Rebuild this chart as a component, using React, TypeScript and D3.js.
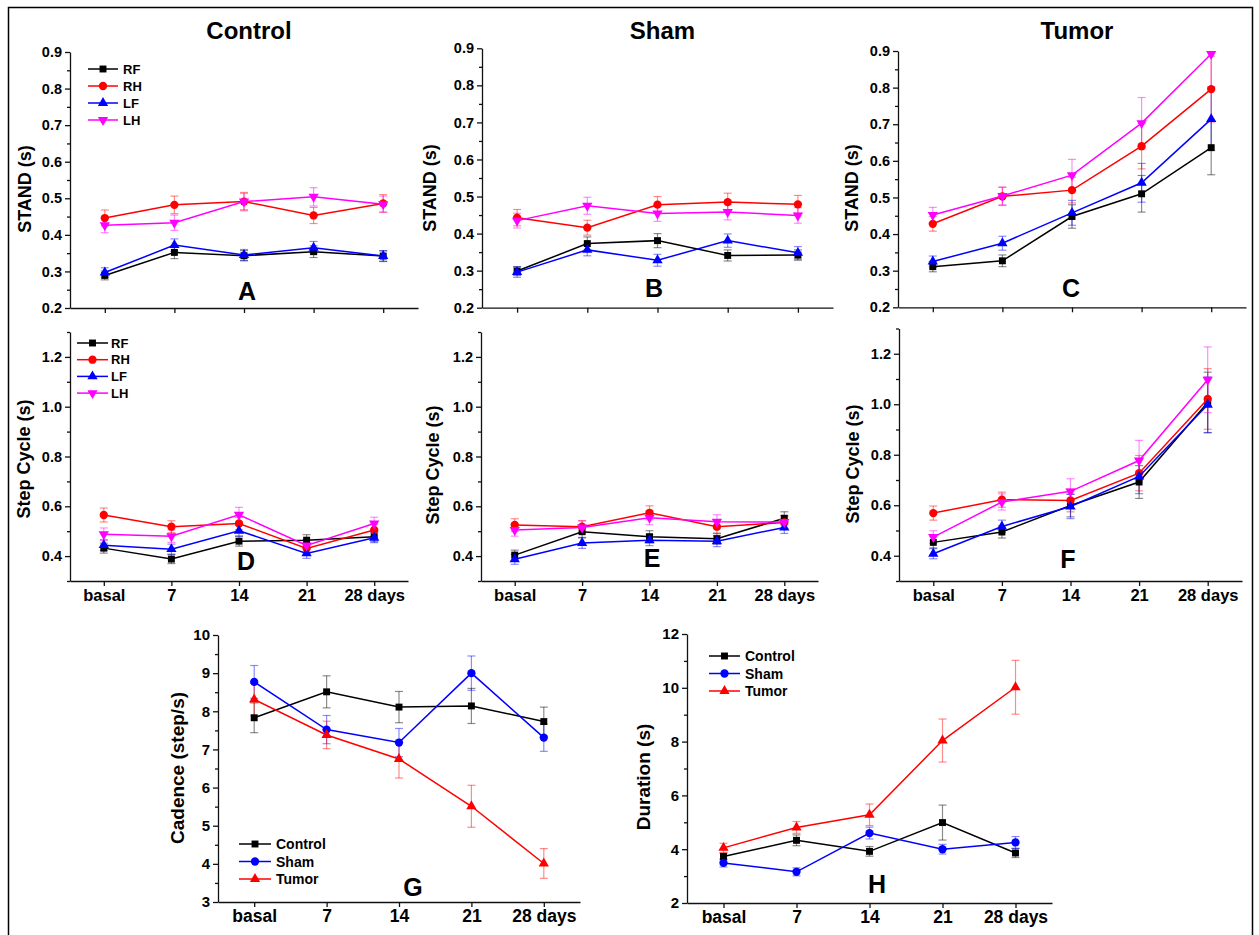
import React, { useEffect, useRef } from "react";
import * as d3 from "d3";

// x categories
const days = ["basal", "7", "14", "21", "28 days"];
const limbs = ["RF", "RH", "LF", "LH"];
const groups = ["Control", "Sham", "Tumor"];

// STAND (s), rows: RF, RH, LF, LH
const standControl = [
  [0.289, 0.352, 0.343, 0.354, 0.342],
  [0.446, 0.482, 0.491, 0.453, 0.486],
  [0.297, 0.372, 0.345, 0.365, 0.342],
  [0.426, 0.433, 0.491, 0.504, 0.484],
];
const standControlErr = [
  [0.012, 0.017, 0.014, 0.016, 0.014],
  [0.022, 0.024, 0.025, 0.022, 0.024],
  [0.013, 0.017, 0.015, 0.017, 0.015],
  [0.02, 0.021, 0.022, 0.025, 0.022],
];
const standSham = [
  [0.299, 0.373, 0.381, 0.341, 0.342],
  [0.443, 0.416, 0.478, 0.485, 0.479],
  [0.296, 0.356, 0.328, 0.381, 0.348],
  [0.435, 0.475, 0.454, 0.458, 0.449],
];
const standShamErr = [
  [0.012, 0.018, 0.019, 0.015, 0.014],
  [0.022, 0.02, 0.022, 0.024, 0.024],
  [0.014, 0.016, 0.016, 0.018, 0.017],
  [0.02, 0.023, 0.021, 0.021, 0.021],
];
const standTumor = [
  [0.311, 0.327, 0.448, 0.51, 0.636],
  [0.428, 0.503, 0.52, 0.64, 0.796],
  [0.325, 0.375, 0.458, 0.54, 0.714],
  [0.452, 0.504, 0.561, 0.703, 0.892],
];
const standTumorErr = [
  [0.014, 0.016, 0.032, 0.05, 0.074],
  [0.02, 0.025, 0.035, 0.062, 0.09],
  [0.015, 0.019, 0.034, 0.053, 0.085],
  [0.021, 0.024, 0.043, 0.07, 0.09],
];

// Step Cycle (s)
const cycleControl = [
  [0.432, 0.388, 0.46, 0.464, 0.478],
  [0.565, 0.518, 0.531, 0.431, 0.505],
  [0.444, 0.428, 0.502, 0.411, 0.474],
  [0.488, 0.48, 0.566, 0.443, 0.531],
];
const cycleControlErr = [
  [0.02, 0.018, 0.02, 0.022, 0.02],
  [0.028, 0.024, 0.025, 0.022, 0.024],
  [0.022, 0.02, 0.022, 0.02, 0.02],
  [0.025, 0.025, 0.03, 0.025, 0.025],
];
const cycleSham = [
  [0.404, 0.498, 0.478, 0.47, 0.552],
  [0.525, 0.518, 0.574, 0.518, 0.535],
  [0.387, 0.453, 0.464, 0.46, 0.515],
  [0.505, 0.515, 0.554, 0.538, 0.537],
];
const cycleShamErr = [
  [0.02, 0.025, 0.024, 0.022, 0.026],
  [0.025, 0.025, 0.028, 0.028, 0.025],
  [0.02, 0.022, 0.022, 0.022, 0.024],
  [0.025, 0.026, 0.028, 0.028, 0.026],
];
const cycleTumor = [
  [0.453, 0.494, 0.599, 0.692, 1.007],
  [0.569, 0.622, 0.619, 0.727, 1.021],
  [0.408, 0.516, 0.595, 0.714, 0.998],
  [0.474, 0.613, 0.655, 0.777, 1.097],
];
const cycleTumorErr = [
  [0.022, 0.024, 0.045, 0.065, 0.12],
  [0.028, 0.03, 0.045, 0.07, 0.12],
  [0.02, 0.025, 0.048, 0.068, 0.11],
  [0.025, 0.032, 0.05, 0.08, 0.13],
];

// Cadence (step/s), rows: Control, Sham, Tumor
const cadence = [
  [7.83, 8.51, 8.11, 8.14, 7.73],
  [8.77, 7.52, 7.18, 9.0, 7.31],
  [8.31, 7.38, 6.75, 5.51, 4.01],
];
const cadenceErr = [
  [0.39, 0.42, 0.41, 0.46, 0.38],
  [0.43, 0.37, 0.37, 0.45, 0.36],
  [0.42, 0.36, 0.5, 0.55, 0.39],
];

// Duration (s)
const duration = [
  [3.73, 4.33, 3.92, 4.99, 3.86],
  [3.49, 3.16, 4.6, 4.0, 4.25],
  [4.05, 4.81, 5.28, 8.04, 10.02],
];
const durationErr = [
  [0.12, 0.2, 0.18, 0.65, 0.17],
  [0.15, 0.15, 0.22, 0.18, 0.22],
  [0.17, 0.22, 0.4, 0.8, 1.0],
];

const FONT = "'Liberation Sans', Arial, Helvetica, sans-serif";

const limbStyle = [
  { color: "#000000", shape: "square" },
  { color: "#ff0000", shape: "circle" },
  { color: "#0000ff", shape: "up" },
  { color: "#ff00ff", shape: "down" },
];
const groupStyle = [
  { color: "#000000", shape: "square" },
  { color: "#0000ff", shape: "circle" },
  { color: "#ff0000", shape: "up" },
];

const symbolPath = (shape: string) => {
  if (shape === "square") return d3.symbol(d3.symbolSquare, 48)();
  if (shape === "circle") return d3.symbol(d3.symbolCircle, 54)();
  return d3.symbol(d3.symbolTriangle, 46)();
};
const symbolTransform = (shape: string, x: number, y: number) =>
  `translate(${x},${y})` + (shape === "down" ? " rotate(180)" : "");

const range = (a: number, b: number, s: number) => {
  const out: number[] = [];
  for (let v = a; v <= b + s / 1000; v += s) out.push(+v.toFixed(4));
  return out;
};

const standTicks = { major: range(0.2, 0.9, 0.1), minor: range(0.25, 0.85, 0.1), fmt: ".1f" };
const cycleTicks = { major: range(0.4, 1.2, 0.2), minor: range(0.3, 1.3, 0.2), fmt: ".1f" };

const panels = [
  { letter: "A", title: "Control", left: 70, right: 418, top: 52, bottom: 308, domain: [0.2, 0.9], ticks: standTicks, values: standControl, errs: standControlErr, ylabel: "STAND (s)", xlabels: false, names: limbs, styles: limbStyle, legend: { x0: 88, x1: 118, tx: 123, y: 69, dy: 17 }, lx: 25, ly: 189, letterPos: [247, 300] },
  { letter: "B", title: "Sham", left: 482, right: 833, top: 48.3, bottom: 307.7, domain: [0.2, 0.9], ticks: standTicks, values: standSham, errs: standShamErr, ylabel: "STAND (s)", xlabels: false, names: limbs, styles: limbStyle, legend: null, lx: 430, ly: 188, letterPos: [654, 297] },
  { letter: "C", title: "Tumor", left: 898, right: 1246, top: 51, bottom: 307.3, domain: [0.2, 0.9], ticks: standTicks, values: standTumor, errs: standTumorErr, ylabel: "STAND (s)", xlabels: false, names: limbs, styles: limbStyle, legend: null, lx: 852, ly: 188, letterPos: [1071, 297] },
  { letter: "D", title: "", left: 70, right: 408, top: 332, bottom: 581, domain: [0.3, 1.3], ticks: cycleTicks, values: cycleControl, errs: cycleControlErr, ylabel: "Step Cycle (s)", xlabels: true, names: limbs, styles: limbStyle, legend: { x0: 77, x1: 108, tx: 111, y: 343, dy: 16.7 }, lx: 24, ly: 459, letterPos: [246, 570] },
  { letter: "E", title: "", left: 481, right: 818, top: 332, bottom: 581, domain: [0.3, 1.3], ticks: cycleTicks, values: cycleSham, errs: cycleShamErr, ylabel: "Step Cycle (s)", xlabels: true, names: limbs, styles: limbStyle, legend: null, lx: 433, ly: 465, letterPos: [652, 567] },
  { letter: "F", title: "", left: 899, right: 1242, top: 328.5, bottom: 581, domain: [0.3, 1.3], ticks: cycleTicks, values: cycleTumor, errs: cycleTumorErr, ylabel: "Step Cycle (s)", xlabels: true, names: limbs, styles: limbStyle, legend: null, lx: 853, ly: 464, letterPos: [1068, 568] },
  { letter: "G", title: "", left: 218, right: 580, top: 635, bottom: 902, domain: [3, 10], ticks: { major: range(3, 10, 1), minor: range(3.5, 9.5, 1), fmt: "d" }, values: cadence, errs: cadenceErr, ylabel: "Cadence (step/s)", xlabels: true, names: groups, styles: groupStyle, legend: { x0: 239, x1: 271, tx: 276, y: 844, dy: 17.5 }, lx: 177, ly: 768, letterPos: [413, 896], big: true },
  { letter: "H", title: "", left: 687, right: 1052, top: 634, bottom: 903, domain: [2, 12], ticks: { major: range(2, 12, 2), minor: range(3, 11, 2), fmt: "d" }, values: duration, errs: durationErr, ylabel: "Duration (s)", xlabels: true, names: groups, styles: groupStyle, legend: { x0: 709, x1: 740, tx: 745, y: 656, dy: 17.5 }, lx: 643, ly: 777, letterPos: [877, 893], big: true },
];

function drawPanel(svg: any, p: any) {
  const x = d3.scalePoint().domain(days).range([p.left, p.right]).padding(0.5);
  const y = d3.scaleLinear().domain(p.domain).range([p.bottom, p.top]).clamp(true);
  const g = svg.append("g");

  // y axis, minor ticks first then major
  g.append("g")
    .attr("transform", `translate(${p.left},0)`)
    .call(d3.axisLeft(y).tickValues(p.ticks.minor).tickSize(3).tickSizeOuter(0).tickFormat(() => ""))
    .call((a: any) => a.select(".domain").remove());
  const ya = g.append("g")
    .attr("transform", `translate(${p.left},0)`)
    .call(d3.axisLeft(y).tickValues(p.ticks.major).tickSize(5).tickSizeOuter(0).tickPadding(3).tickFormat(d3.format(p.ticks.fmt)));
  ya.attr("font-family", FONT).attr("font-size", p.big ? 15 : 14.5).attr("font-weight", "bold");

  const xa = g.append("g")
    .attr("transform", `translate(0,${p.bottom})`)
    .call(d3.axisBottom(x).tickSize(5).tickSizeOuter(0).tickPadding(3).tickFormat((d: string) => (p.xlabels ? d : "")));
  xa.attr("font-family", FONT).attr("font-size", p.big ? 17.5 : 16.5).attr("font-weight", "bold");

  g.selectAll(".domain, .tick line").attr("stroke", "#111").attr("stroke-width", 1.3);
  g.selectAll(".tick text").attr("fill", "#000");

  const line = d3.line<number>().x((d, i) => x(days[i]) as number).y(d => y(d));

  // error bars (clipped to the axis range by the clamped scale)
  p.values.forEach((vals: number[], si: number) => {
    const st = p.styles[si];
    const eg = g.append("g").attr("stroke", st.color).attr("stroke-opacity", 0.45).attr("stroke-width", 1.2);
    vals.forEach((v, i) => {
      const cx = x(days[i]) as number;
      const e = p.errs[si][i];
      const lo = v - e, hi = v + e;
      eg.append("line").attr("x1", cx).attr("x2", cx).attr("y1", y(lo)).attr("y2", y(hi));
      if (lo >= p.domain[0]) eg.append("line").attr("x1", cx - 4).attr("x2", cx + 4).attr("y1", y(lo)).attr("y2", y(lo));
      if (hi <= p.domain[1]) eg.append("line").attr("x1", cx - 4).attr("x2", cx + 4).attr("y1", y(hi)).attr("y2", y(hi));
    });
  });

  p.values.forEach((vals: number[], si: number) => {
    const st = p.styles[si];
    g.append("path").attr("d", line(vals)).attr("fill", "none").attr("stroke", st.color).attr("stroke-width", 1.5);
    g.append("g").selectAll("path").data(vals).enter().append("path")
      .attr("d", symbolPath(st.shape))
      .attr("transform", (d: number, i: number) => symbolTransform(st.shape, x(days[i]) as number, y(d)))
      .attr("fill", st.color);
  });

  // legend
  if (p.legend) {
    const L = p.legend;
    p.names.forEach((n: string, i: number) => {
      const st = p.styles[i];
      const ly = L.y + i * L.dy;
      g.append("line").attr("x1", L.x0).attr("x2", L.x1).attr("y1", ly).attr("y2", ly).attr("stroke", st.color).attr("stroke-width", 1.5);
      g.append("path").attr("d", symbolPath(st.shape)).attr("transform", symbolTransform(st.shape, (L.x0 + L.x1) / 2, ly)).attr("fill", st.color);
      g.append("text").attr("x", L.tx).attr("y", ly).attr("dy", "0.36em")
        .attr("font-family", FONT).attr("font-weight", "bold").attr("font-size", p.big ? 14 : 13).text(n);
    });
  }

  // y label
  g.append("text")
    .attr("transform", `translate(${p.lx},${p.ly}) rotate(-90)`)
    .attr("text-anchor", "middle").attr("dy", "0.36em")
    .attr("font-family", FONT).attr("font-weight", "bold").attr("font-size", p.big ? 19 : 18)
    .text(p.ylabel);

  // panel letter
  g.append("text").attr("x", p.letterPos[0]).attr("y", p.letterPos[1]).attr("text-anchor", "middle")
    .attr("font-family", FONT).attr("font-weight", "bold").attr("font-size", 25).text(p.letter);

  if (p.title) {
    g.append("text").attr("x", (p.left + p.right) / 2 + 5).attr("y", 39).attr("text-anchor", "middle")
      .attr("font-family", FONT).attr("font-weight", "bold").attr("font-size", 24).text(p.title);
  }
}

const App = () => {
  const ref = useRef<SVGSVGElement>(null);

  useEffect(() => {
    const svg = d3.select(ref.current);
    svg.selectAll("*").remove();
    svg.append("rect").attr("width", 1259).attr("height", 935).attr("fill", "#fff");
    // outer frame (open at the bottom)
    svg.append("path").attr("d", "M8.5,935 V7.5 H1252.5 V935").attr("fill", "none").attr("stroke", "#000").attr("stroke-width", 1.5);
    panels.forEach(p => drawPanel(svg, p));
  }, []);

  return (
    <div style={{ position: "absolute", left: 0, top: 0 }}>
      <svg ref={ref} width={1259} height={935}></svg>
    </div>
  );
};

export default App;
